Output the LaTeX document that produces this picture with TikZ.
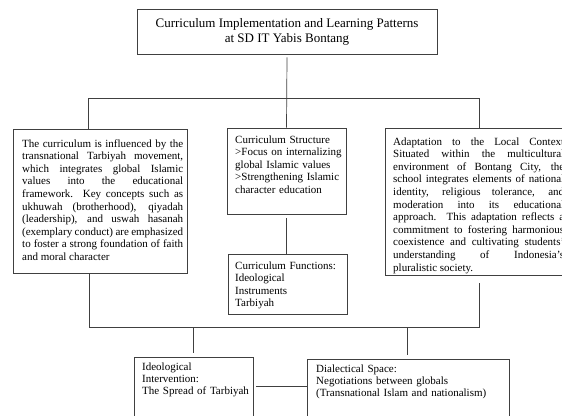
\documentclass[tikz,border=0pt]{standalone}
\usepackage{fontspec}
\setmainfont{Liberation Serif}
\usetikzlibrary{fit}
\begin{document}
\begin{tikzpicture}[x=1pt,y=-1pt,
  box/.style={draw=black!75, line width=0.7pt, inner sep=0pt, rectangle},
  ln/.style={draw=black!75, line width=0.7pt},
  txt/.style={inner sep=0pt, anchor=base west, font=\fontsize{11}{12.6}\selectfont},
  jtxt/.style={txt, align=justify},
  ltxt/.style={txt, align=left}]
\useasboundingbox (0,0) rectangle (562,415);
\clip (0,0) rectangle (562,415);
% boxes
\node[box, fit={(137,9) (437,54)}] (T) {};
\node[box, fit={(13,129) (187,273)}] (L) {};
\node[box, fit={(227,128) (346,214)}] (S) {};
\node[box, fit={(228,254) (347,314)}] (F) {};
\node[box, fit={(385,128) (600,275)}] (R) {};
\node[box, fit={(134,357) (253,440)}] (I) {};
\node[box, fit={(307,359) (509,440)}] (D) {};
% texts
\node[inner sep=0pt, align=center, font=\fontsize{13}{15}\selectfont] (Tt) at (T.center)
  {Curriculum Implementation and Learning Patterns\\at SD IT Yabis Bontang};
\node[jtxt, text width=161pt] (Lt) at (22,147) {%
The curriculum is influenced by the\linebreak
transnational Tarbiyah movement,\linebreak
which integrates global Islamic\linebreak
values into the educational\linebreak
framework. Key concepts such as\linebreak
ukhuwah (brotherhood), qiyadah\linebreak
(leadership), and uswah hasanah\linebreak
(exemplary conduct) are emphasized\linebreak
to foster a strong foundation of faith\linebreak
and moral character};
\node[ltxt, text width=112pt] (St) at (235,143) {%
Curriculum Structure\\
>Focus on internalizing\\
global Islamic values\\
>Strengthening Islamic\\
character education};
\node[ltxt, text width=112pt] (Ft) at (235,269) {%
Curriculum Functions:\\
Ideological\\
Instruments\\
Tarbiyah};
\node[jtxt, text width=171pt] (Rt) at (393,145) {%
Adaptation to the Local Context\linebreak
Situated within the multicultural\linebreak
environment of Bontang City, the\linebreak
school integrates elements of national\linebreak
identity, religious tolerance, and\linebreak
moderation into its educational\linebreak
approach. This adaptation reflects a\linebreak
commitment to fostering harmonious\linebreak
coexistence and cultivating students'\linebreak
understanding of Indonesia's\linebreak
pluralistic society.};
\node[ltxt, text width=110pt, font=\fontsize{11}{12.2}\selectfont] (It) at (142,370) {%
Ideological\\
Intervention:\\
The Spread of Tarbiyah};
\node[ltxt, text width=190pt, font=\fontsize{11}{12.2}\selectfont] (Dt) at (316,372) {%
Dialectical Space:\\
Negotiations between globals\\
(Transnational Islam and nationalism)};
% connectors
\coordinate (b1) at (88,98);
\coordinate (b2) at (479,98);
\draw[ln] ([yshift=-3pt]T.south) -- (S.north);
\draw[ln] (b1) -- (b2);
\draw[ln] (b1) -- (b1 |- L.north);
\draw[ln] (b2) -- (b2 |- R.north);
\draw[ln] ([yshift=-4pt]S.south) -- (S.south |- F.north);
\coordinate (c1) at (89,327.5);
\coordinate (c2) at (479,327.5);
\coordinate (c3) at (193,327.5);
\coordinate (c4) at (407,327.5);
\draw[ln] (c1 |- L.south) -- (c1) -- (c2) -- ([yshift=-8pt]c2 |- R.south);
\draw[ln] (c3) -- ([yshift=4pt]c3 |- I.north);
\draw[ln] (c4) -- ([yshift=4pt]c4 |- D.north);
\coordinate (lk) at (256,386);
\draw[ln] (lk) -- (lk -| D.west);
\end{tikzpicture}
\end{document}
